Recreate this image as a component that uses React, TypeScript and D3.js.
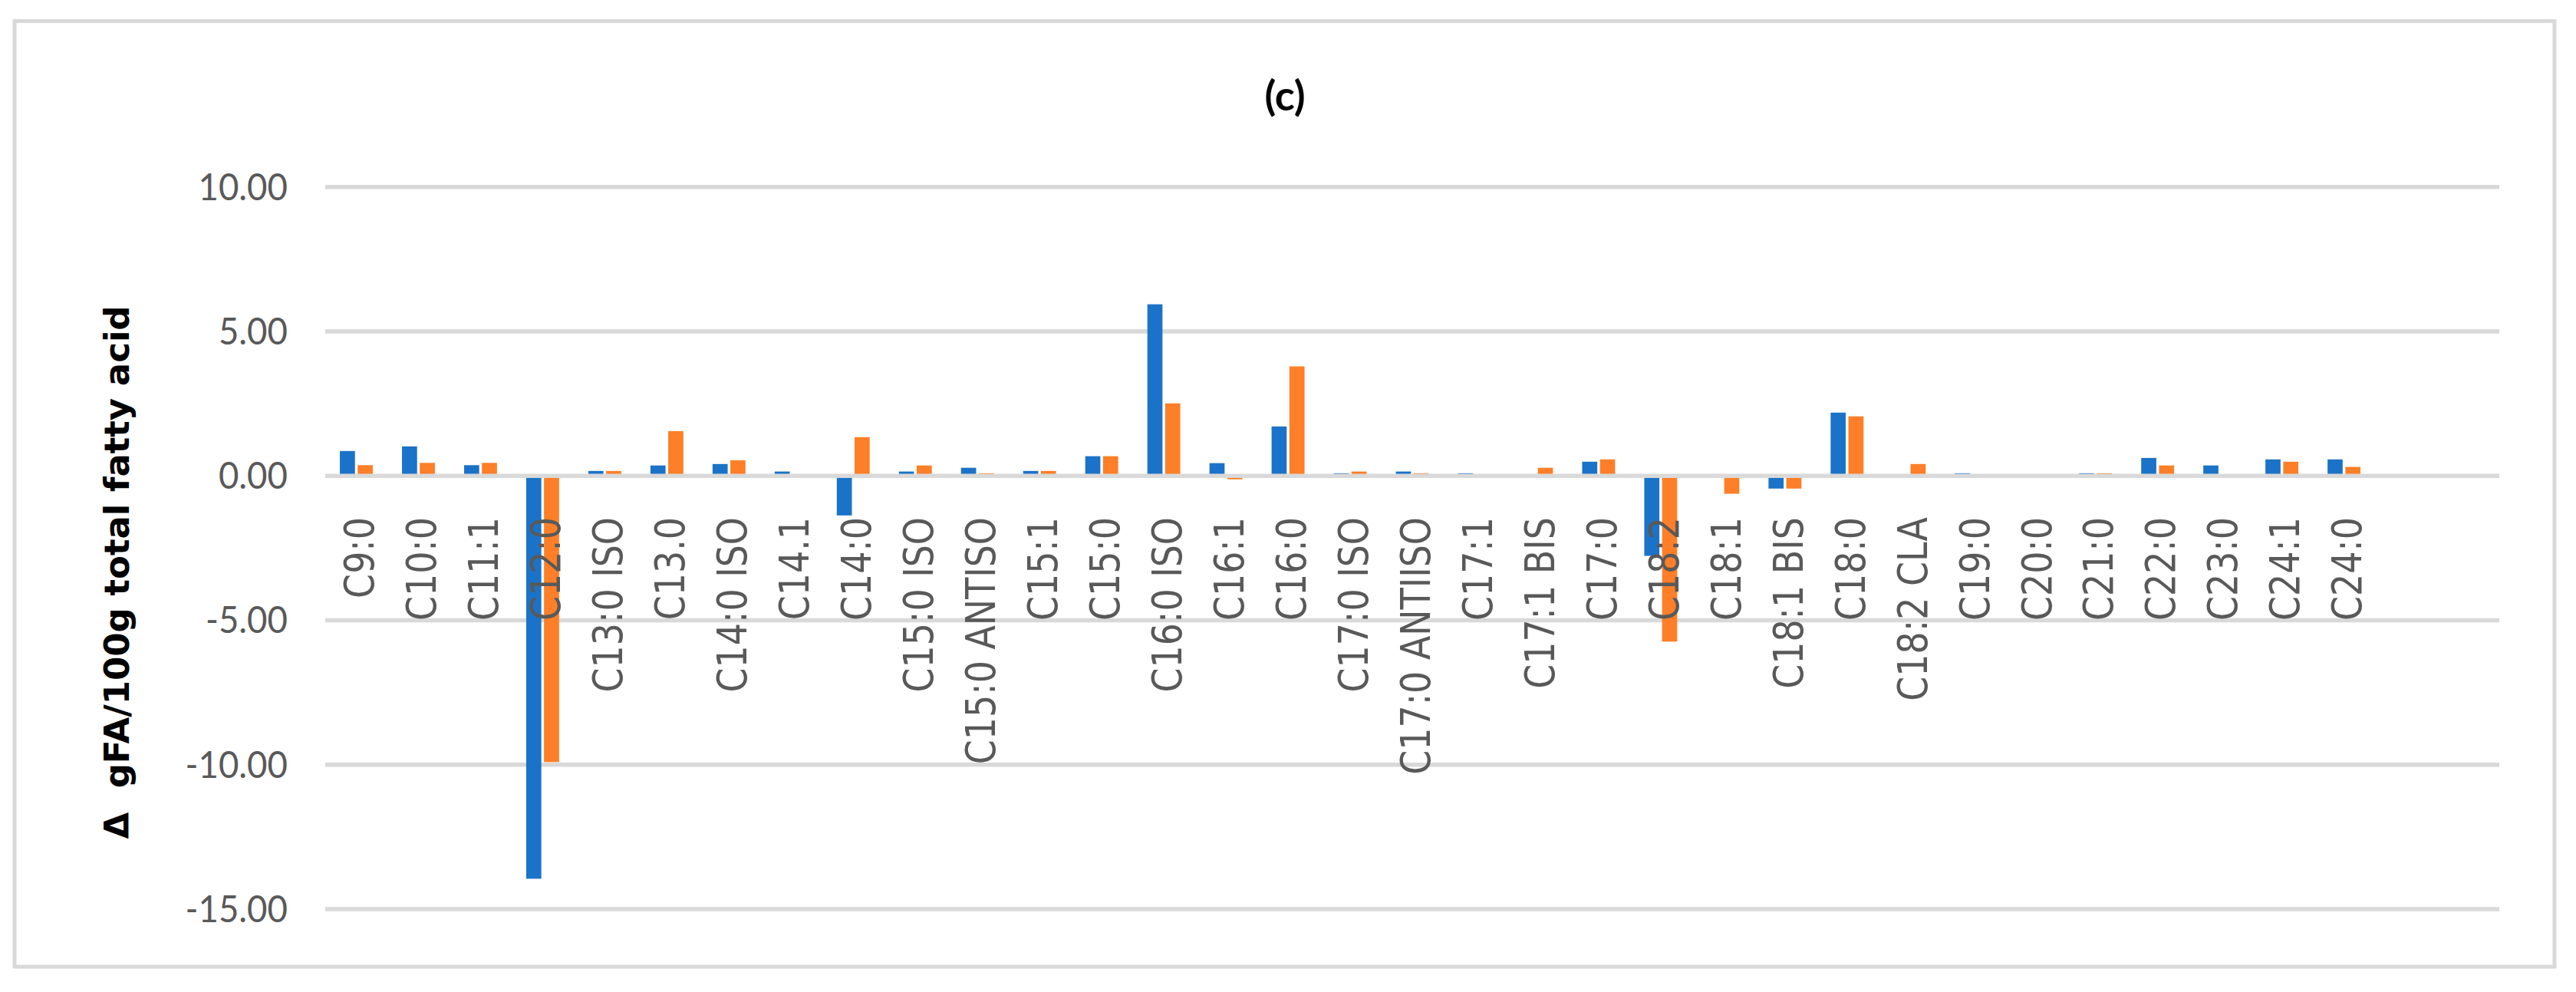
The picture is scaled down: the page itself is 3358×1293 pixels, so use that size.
import React from "react";
import * as d3 from "d3";

const categories: string[] = [
  "C9:0", "C10:0", "C11:1", "C12:0", "C13:0 ISO", "C13.0", "C14:0 ISO", "C14.1", "C14:0",
  "C15:0 ISO", "C15:0 ANTISO", "C15:1", "C15:0", "C16:0 ISO", "C16:1", "C16:0", "C17:0 ISO",
  "C17:0 ANTIISO", "C17:1", "C17:1 BIS", "C17:0", "C18:2", "C18:1", "C18:1 BIS", "C18:0",
  "C18:2 CLA", "C19:0", "C20:0", "C21:0", "C22:0", "C23:0", "C24:1", "C24:0", "", "",
];

const seriesBlue: number[] = [
  0.86, 1.02, 0.37, -13.95, 0.17, 0.36, 0.41, 0.15, -1.37,
  0.15, 0.28, 0.17, 0.68, 5.94, 0.44, 1.71, 0.09,
  0.15, 0.09, 0, 0.49, -2.77, 0, -0.44, 2.19,
  0, 0.09, 0, 0.09, 0.62, 0.36, 0.57, 0.57, 0, 0,
];

const seriesOrange: number[] = [
  0.37, 0.45, 0.45, -9.91, 0.17, 1.55, 0.54, 0, 1.34,
  0.36, 0.09, 0.17, 0.68, 2.51, -0.12, 3.79, 0.15,
  0.09, 0, 0.28, 0.57, -5.74, -0.62, -0.44, 2.06,
  0.41, 0, 0, 0.09, 0.36, 0, 0.49, 0.31, 0, 0,
];

const yTicks: number[] = [-15, -10, -5, 0, 5, 10];
const chartTitle = "(c)";
const yAxisTitle = "\u0394  gFA/100g total fatty acid";

const BLUE = "#1a73c8";
const ORANGE = "#fe7f27";
const GRID = "#d9d9d9";
const TEXT = "#595959";

export default function App() {
  const W = 3358;
  const H = 1293;
  const plotLeft = 424;
  const plotRight = 3258;
  const yTop = 243.8;
  const yBottom = 1184.9;

  const x0 = d3
    .scaleBand<number>()
    .domain(d3.range(categories.length))
    .range([plotLeft, plotRight])
    .paddingInner(0)
    .paddingOuter(0);
  const bw = x0.bandwidth();
  const x1 = d3
    .scaleBand<string>()
    .domain(["blue", "orange"])
    .range([bw / 2 - 21.45, bw / 2 + 21.45])
    .paddingInner(0.151)
    .paddingOuter(0);
  const y = d3.scaleLinear().domain([-15, 10]).range([yBottom, yTop]);
  const fmt = (v: number) => d3.format(".2f")(v).replace("\u2212", "-");

  const series = [
    { key: "blue", values: seriesBlue, color: BLUE },
    { key: "orange", values: seriesOrange, color: ORANGE },
  ];

  return (
    <svg
      width={W}
      height={H}
      viewBox={`0 0 ${W} ${H}`}
      style={{ position: "absolute", left: 0, top: 0, background: "#fff" }}
    >
      <rect x={0} y={0} width={W} height={H} fill="#fff" />
      <rect x={19} y={27.5} width={3311} height={1232.5} fill="#fff" stroke={GRID} strokeWidth={5} />

      <text
        x={1675}
        y={143.5}
        textAnchor="middle"
        fontFamily="Lato, 'Open Sans', sans-serif"
        fontWeight={700}
        fontSize={54}
        fill="#000"
      >
        {chartTitle}
      </text>

      {yTicks
        .filter((t) => t !== 0)
        .map((t) => (
          <line key={`g${t}`} x1={plotLeft} x2={plotRight} y1={y(t)} y2={y(t)} stroke={GRID} strokeWidth={5.5} />
        ))}

      {yTicks.map((t) => (
        <g key={`t${t}`} transform={`translate(375, ${y(t) + 17}) scale(0.95, 1)`}>
          <text textAnchor="end" fontFamily="Lato, 'Open Sans', sans-serif" fontSize={48} fill={TEXT}>
            {fmt(t)}
          </text>
        </g>
      ))}

      {series.map((s) =>
        s.values.map((v, i) => {
          if (v === 0) return null;
          const bx = (x0(i) as number) + (x1(s.key) as number);
          const y0 = y(0);
          const yv = y(v);
          return (
            <rect
              key={`${s.key}${i}`}
              x={bx}
              y={Math.min(y0, yv)}
              width={x1.bandwidth()}
              height={Math.abs(yv - y0)}
              fill={s.color}
            />
          );
        })
      )}

      <line x1={plotLeft} x2={plotRight} y1={y(0)} y2={y(0)} stroke={GRID} strokeWidth={5.5} />

      {categories.map((c, i) =>
        c ? (
          <g key={`c${i}`} transform={`translate(${(x0(i) as number) + bw / 2 + 22.8}, 674) rotate(-90) scale(0.85, 1)`}>
            <text textAnchor="end" fontFamily="'DejaVu Sans', Verdana, sans-serif" fontSize={54} fill={TEXT}>
              {c}
            </text>
          </g>
        ) : null
      )}

      <g transform={`translate(168, 746) rotate(-90)`}>
        <text
          textAnchor="middle"
          fontFamily="'DejaVu Sans', Verdana, sans-serif"
          fontWeight={700}
          fontSize={45}
          fill="#000"
          style={{ whiteSpace: "pre" }}
        >
          {yAxisTitle}
        </text>
      </g>
    </svg>
  );
}
